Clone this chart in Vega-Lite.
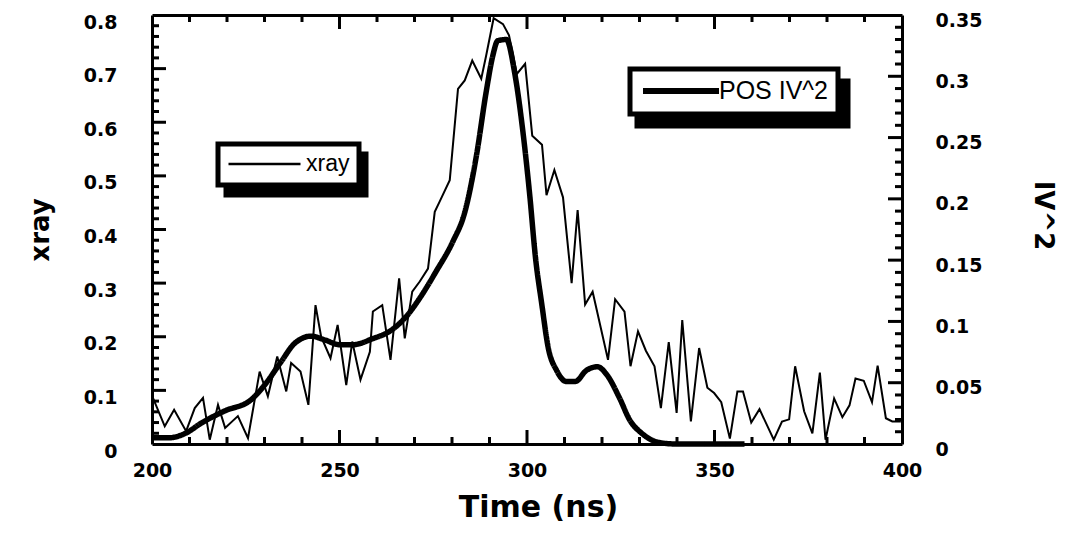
{
  "$schema": "https://vega.github.io/schema/vega-lite/v6.json",
  "width": 750,
  "height": 429,
  "autosize": "none",
  "padding": {"left": 152, "top": 15, "right": 164, "bottom": 89},
  "background": "white",
  "datasets": {
    "xr": [
      {"t": 200.0, "v": 0.09}, {"t": 203.4, "v": 0.033}, {"t": 205.9, "v": 0.064}, {"t": 209.1, "v": 0.024},
      {"t": 211.4, "v": 0.067}, {"t": 213.6, "v": 0.086}, {"t": 215.4, "v": 0.008}, {"t": 217.6, "v": 0.073},
      {"t": 219.5, "v": 0.030}, {"t": 222.9, "v": 0.052}, {"t": 225.6, "v": 0.011}, {"t": 228.7, "v": 0.135},
      {"t": 230.9, "v": 0.089}, {"t": 233.4, "v": 0.163}, {"t": 235.8, "v": 0.098}, {"t": 237.1, "v": 0.151},
      {"t": 239.6, "v": 0.135}, {"t": 241.7, "v": 0.073}, {"t": 243.6, "v": 0.259}, {"t": 245.1, "v": 0.200},
      {"t": 247.6, "v": 0.160}, {"t": 249.5, "v": 0.222}, {"t": 251.8, "v": 0.110}, {"t": 253.4, "v": 0.191},
      {"t": 255.6, "v": 0.120}, {"t": 258.1, "v": 0.172}, {"t": 258.9, "v": 0.247}, {"t": 261.4, "v": 0.259},
      {"t": 263.6, "v": 0.157}, {"t": 265.9, "v": 0.309}, {"t": 267.4, "v": 0.197}, {"t": 269.4, "v": 0.284},
      {"t": 271.4, "v": 0.303}, {"t": 273.6, "v": 0.327}, {"t": 275.4, "v": 0.433}, {"t": 276.7, "v": 0.452},
      {"t": 279.4, "v": 0.492}, {"t": 281.6, "v": 0.662}, {"t": 283.4, "v": 0.678}, {"t": 285.4, "v": 0.715},
      {"t": 287.8, "v": 0.681}, {"t": 289.1, "v": 0.724}, {"t": 291.1, "v": 0.794}, {"t": 293.6, "v": 0.783},
      {"t": 295.2, "v": 0.762}, {"t": 297.3, "v": 0.690}, {"t": 299.5, "v": 0.709}, {"t": 301.4, "v": 0.575},
      {"t": 304.0, "v": 0.558}, {"t": 305.2, "v": 0.464}, {"t": 307.3, "v": 0.511}, {"t": 309.6, "v": 0.460},
      {"t": 311.9, "v": 0.300}, {"t": 313.5, "v": 0.436}, {"t": 315.5, "v": 0.260}, {"t": 317.5, "v": 0.284},
      {"t": 321.6, "v": 0.157}, {"t": 323.5, "v": 0.270}, {"t": 326.0, "v": 0.247}, {"t": 327.6, "v": 0.145},
      {"t": 329.6, "v": 0.210}, {"t": 331.7, "v": 0.174}, {"t": 334.0, "v": 0.145}, {"t": 335.7, "v": 0.067},
      {"t": 337.8, "v": 0.190}, {"t": 339.9, "v": 0.058}, {"t": 341.4, "v": 0.231}, {"t": 343.7, "v": 0.042},
      {"t": 345.9, "v": 0.179}, {"t": 348.1, "v": 0.105}, {"t": 349.9, "v": 0.095}, {"t": 351.8, "v": 0.078},
      {"t": 354.1, "v": 0.010}, {"t": 356.1, "v": 0.098}, {"t": 357.6, "v": 0.098}, {"t": 359.8, "v": 0.040},
      {"t": 362.0, "v": 0.065}, {"t": 365.8, "v": 0.008}, {"t": 368.0, "v": 0.042}, {"t": 369.9, "v": 0.046},
      {"t": 371.5, "v": 0.145}, {"t": 373.9, "v": 0.061}, {"t": 376.1, "v": 0.020}, {"t": 378.1, "v": 0.133},
      {"t": 379.6, "v": 0.008}, {"t": 381.9, "v": 0.085}, {"t": 384.1, "v": 0.050}, {"t": 386.0, "v": 0.072},
      {"t": 387.6, "v": 0.122}, {"t": 389.8, "v": 0.118}, {"t": 392.0, "v": 0.078}, {"t": 393.5, "v": 0.146},
      {"t": 395.7, "v": 0.048}, {"t": 397.4, "v": 0.042}, {"t": 399.7, "v": 0.042}
    ],
    "iv": [
      {"t": 200.0, "v": 0.005}, {"t": 204.3, "v": 0.005}, {"t": 209.1, "v": 0.009}, {"t": 213.1, "v": 0.017},
      {"t": 219.4, "v": 0.027}, {"t": 226.4, "v": 0.036}, {"t": 230.0, "v": 0.048}, {"t": 234.4, "v": 0.067},
      {"t": 238.0, "v": 0.082}, {"t": 242.4, "v": 0.088}, {"t": 246.0, "v": 0.085}, {"t": 250.1, "v": 0.081},
      {"t": 253.6, "v": 0.081}, {"t": 258.9, "v": 0.086}, {"t": 263.4, "v": 0.092}, {"t": 267.8, "v": 0.104},
      {"t": 271.4, "v": 0.119}, {"t": 275.8, "v": 0.141}, {"t": 280.2, "v": 0.165}, {"t": 283.4, "v": 0.189},
      {"t": 286.5, "v": 0.235}, {"t": 289.1, "v": 0.287}, {"t": 290.9, "v": 0.317}, {"t": 292.2, "v": 0.329},
      {"t": 294.5, "v": 0.330}, {"t": 296.7, "v": 0.303}, {"t": 298.9, "v": 0.255}, {"t": 300.7, "v": 0.204},
      {"t": 302.3, "v": 0.151}, {"t": 303.9, "v": 0.115}, {"t": 305.7, "v": 0.078}, {"t": 307.9, "v": 0.060},
      {"t": 310.5, "v": 0.051}, {"t": 312.9, "v": 0.051}, {"t": 315.8, "v": 0.060}, {"t": 318.8, "v": 0.063},
      {"t": 321.4, "v": 0.056}, {"t": 324.6, "v": 0.038}, {"t": 327.5, "v": 0.019}, {"t": 330.5, "v": 0.009},
      {"t": 333.4, "v": 0.003}, {"t": 335.6, "v": 0.001}, {"t": 340.0, "v": 0.0}, {"t": 358.0, "v": 0.0}
    ],
    "xt": [
      {"t": 210}, {"t": 220}, {"t": 230}, {"t": 240}, {"t": 250}, {"t": 260}, {"t": 270}, {"t": 280}, {"t": 290},
      {"t": 300}, {"t": 310}, {"t": 320}, {"t": 330}, {"t": 340}, {"t": 350}, {"t": 360}, {"t": 370}, {"t": 380}, {"t": 390}
    ],
    "lt": [
      {"v": 0.02}, {"v": 0.04}, {"v": 0.06}, {"v": 0.08}, {"v": 0.1}, {"v": 0.12}, {"v": 0.14}, {"v": 0.16}, {"v": 0.18},
      {"v": 0.2}, {"v": 0.22}, {"v": 0.24}, {"v": 0.26}, {"v": 0.28}, {"v": 0.3}, {"v": 0.32}, {"v": 0.34}, {"v": 0.36},
      {"v": 0.38}, {"v": 0.4}, {"v": 0.42}, {"v": 0.44}, {"v": 0.46}, {"v": 0.48}, {"v": 0.5}, {"v": 0.52}, {"v": 0.54},
      {"v": 0.56}, {"v": 0.58}, {"v": 0.6}, {"v": 0.62}, {"v": 0.64}, {"v": 0.66}, {"v": 0.68}, {"v": 0.7}, {"v": 0.72},
      {"v": 0.74}, {"v": 0.76}, {"v": 0.78}
    ],
    "rt": [
      {"v": 0.01}, {"v": 0.02}, {"v": 0.03}, {"v": 0.04}, {"v": 0.05}, {"v": 0.06}, {"v": 0.07}, {"v": 0.08}, {"v": 0.09},
      {"v": 0.1}, {"v": 0.11}, {"v": 0.12}, {"v": 0.13}, {"v": 0.14}, {"v": 0.15}, {"v": 0.16}, {"v": 0.17}, {"v": 0.18},
      {"v": 0.19}, {"v": 0.2}, {"v": 0.21}, {"v": 0.22}, {"v": 0.23}, {"v": 0.24}, {"v": 0.25}, {"v": 0.26}, {"v": 0.27},
      {"v": 0.28}, {"v": 0.29}, {"v": 0.3}, {"v": 0.31}, {"v": 0.32}, {"v": 0.33}, {"v": 0.34}
    ]
  },
  "config": {
    "view": {"stroke": null},
    "axis": {
      "domainColor": "black",
      "domainWidth": 3,
      "ticks": false,
      "grid": false,
      "labelColor": "black",
      "labelFont": "DejaVu Sans",
      "labelFontWeight": "bold",
      "labelFontSize": 19,
      "labelFlush": false,
      "labelOverlap": false,
      "titleColor": "black",
      "titleFont": "DejaVu Sans",
      "titleFontWeight": "bold"
    },
    "legend": {"strokeWidth": 5, "title": null}
  },
  "resolve": {"scale": {"y": "independent"}, "axis": {"x": "independent"}},
  "layer": [
    {
      "data": {"name": "xr"},
      "mark": {"type": "line", "strokeWidth": 2, "color": "black"},
      "encoding": {
        "x": {
          "field": "t", "type": "quantitative",
          "scale": {"domain": [200, 400], "nice": false, "zero": false},
          "axis": {
            "orient": "bottom",
            "values": [200, 250, 300, 350, 400],
            "labelPadding": 17,
            "title": "Time (ns)",
            "titleFontSize": 30,
            "titlePadding": 12,
            "titleX": 386
          }
        },
        "y": {
          "field": "v", "type": "quantitative",
          "scale": {"domain": [0, 0.8], "nice": false},
          "axis": {
            "orient": "left",
            "values": [0, 0.1, 0.2, 0.3, 0.4, 0.5, 0.6, 0.7, 0.8],
            "format": ".2~f",
            "labelPadding": 35,
            "labelOffset": 7,
            "title": "xray",
            "titleFontSize": 26,
            "titlePadding": 30
          }
        },
        "stroke": {
          "datum": "xray",
          "scale": {"domain": ["xray"], "range": ["black"]},
          "legend": {
            "orient": "none", "legendX": 66, "legendY": 129, "zindex": 2,
            "fillColor": "white", "strokeColor": "black", "padding": 9,
            "symbolType": "stroke", "symbolSize": 5184, "symbolStrokeWidth": 2.5, "symbolStrokeColor": "black",
            "labelFont": "Liberation Sans", "labelFontSize": 23, "labelColor": "black", "labelOffset": 4, "clipHeight": 22
          }
        },
        "opacity": {
          "datum": "xs", "type": "nominal",
          "scale": {"range": [1, 1]},
          "legend": {
            "orient": "none", "legendX": 74, "legendY": 139, "zindex": 1,
            "fillColor": "black", "strokeColor": "black", "padding": 9,
            "symbolType": "stroke", "symbolSize": 14161, "symbolStrokeWidth": 2.5, "symbolStrokeColor": "black",
            "labelExpr": "''",
            "labelFont": "Liberation Sans", "labelFontSize": 23, "labelColor": "black", "labelOffset": 0, "clipHeight": 22
          }
        }
      }
    },
    {
      "data": {"name": "iv"},
      "mark": {"type": "line", "color": "black", "interpolate": "monotone"},
      "encoding": {
        "x": {
          "field": "t", "type": "quantitative",
          "axis": {
            "orient": "top",
            "values": [250, 300, 350],
            "labels": false,
            "title": null
          }
        },
        "y": {
          "field": "v", "type": "quantitative",
          "scale": {"domain": [0, 0.35], "nice": false},
          "axis": {
            "orient": "right",
            "values": [0, 0.05, 0.1, 0.15, 0.2, 0.25, 0.3, 0.35],
            "format": ".2~f",
            "labelPadding": 33,
            "labelOffset": 5,
            "title": "IV^2",
            "titleFontSize": 26,
            "titlePadding": 48,
            "titleY": 200
          }
        },
        "strokeDash": {
          "datum": "POS IV^2",
          "scale": {"domain": ["POS IV^2"], "range": [[1, 0]]},
          "legend": {
            "orient": "none", "legendX": 478, "legendY": 54, "zindex": 2,
            "fillColor": "white", "strokeColor": "black", "padding": 10,
            "symbolType": "stroke", "symbolSize": 5776, "symbolStrokeWidth": 6, "symbolStrokeColor": "black",
            "labelFont": "Liberation Sans", "labelFontSize": 25, "labelColor": "black", "labelOffset": -3, "clipHeight": 24
          }
        },
        "strokeWidth": {
          "datum": "ivs", "type": "nominal",
          "scale": {"range": [5.5, 5.5]},
          "legend": {
            "orient": "none", "legendX": 485, "legendY": 66, "zindex": 1,
            "fillColor": "black", "strokeColor": "black", "padding": 10,
            "symbolType": "stroke", "symbolSize": 34225, "symbolStrokeWidth": 6, "symbolStrokeColor": "black",
            "labelExpr": "''",
            "labelFont": "Liberation Sans", "labelFontSize": 25, "labelColor": "black", "labelOffset": 0, "clipHeight": 24
          }
        }
      }
    },
    {
      "data": {"name": "xt"},
      "transform": [{"filter": "datum.t % 50 === 0"}],
      "mark": {"type": "tick", "orient": "vertical", "size": 14, "thickness": 3, "color": "black", "opacity": 1, "yOffset": -7},
      "encoding": {
        "x": {"field": "t", "type": "quantitative", "axis": null},
        "y": {"datum": 0, "type": "quantitative", "scale": {"domain": [0, 1], "nice": false}, "axis": null}
      }
    },
    {
      "data": {"name": "xt"},
      "transform": [{"filter": "datum.t % 50 !== 0"}],
      "mark": {"type": "tick", "orient": "vertical", "size": 7, "thickness": 3, "color": "black", "opacity": 1, "yOffset": -3.5},
      "encoding": {
        "x": {"field": "t", "type": "quantitative", "axis": null},
        "y": {"datum": 0, "type": "quantitative", "scale": {"domain": [0, 1], "nice": false}, "axis": null}
      }
    },
    {
      "data": {"name": "xt"},
      "transform": [{"filter": "datum.t % 50 === 0"}],
      "mark": {"type": "tick", "orient": "vertical", "size": 14, "thickness": 3, "color": "black", "opacity": 1, "yOffset": 7},
      "encoding": {
        "x": {"field": "t", "type": "quantitative", "axis": null},
        "y": {"datum": 1, "type": "quantitative", "scale": {"domain": [0, 1], "nice": false}, "axis": null}
      }
    },
    {
      "data": {"name": "xt"},
      "transform": [{"filter": "datum.t % 50 !== 0"}],
      "mark": {"type": "tick", "orient": "vertical", "size": 7, "thickness": 3, "color": "black", "opacity": 1, "yOffset": 3.5},
      "encoding": {
        "x": {"field": "t", "type": "quantitative", "axis": null},
        "y": {"datum": 1, "type": "quantitative", "scale": {"domain": [0, 1], "nice": false}, "axis": null}
      }
    },
    {
      "data": {"name": "lt"},
      "transform": [{"filter": "abs(datum.v * 10 - round(datum.v * 10)) < 0.000001"}],
      "mark": {"type": "tick", "orient": "horizontal", "size": 14, "thickness": 3, "color": "black", "opacity": 1, "xOffset": 7},
      "encoding": {
        "x": {"datum": 200, "type": "quantitative", "axis": null},
        "y": {"field": "v", "type": "quantitative", "scale": {"domain": [0, 0.8], "nice": false}, "axis": null}
      }
    },
    {
      "data": {"name": "lt"},
      "transform": [{"filter": "abs(datum.v * 10 - round(datum.v * 10)) >= 0.000001"}],
      "mark": {"type": "tick", "orient": "horizontal", "size": 7, "thickness": 3, "color": "black", "opacity": 1, "xOffset": 3.5},
      "encoding": {
        "x": {"datum": 200, "type": "quantitative", "axis": null},
        "y": {"field": "v", "type": "quantitative", "scale": {"domain": [0, 0.8], "nice": false}, "axis": null}
      }
    },
    {
      "data": {"name": "rt"},
      "transform": [{"filter": "abs(datum.v * 20 - round(datum.v * 20)) < 0.000001"}],
      "mark": {"type": "tick", "orient": "horizontal", "size": 14, "thickness": 3, "color": "black", "opacity": 1, "xOffset": -7},
      "encoding": {
        "x": {"datum": 400, "type": "quantitative", "axis": null},
        "y": {"field": "v", "type": "quantitative", "scale": {"domain": [0, 0.35], "nice": false}, "axis": null}
      }
    },
    {
      "data": {"name": "rt"},
      "transform": [{"filter": "abs(datum.v * 20 - round(datum.v * 20)) >= 0.000001"}],
      "mark": {"type": "tick", "orient": "horizontal", "size": 7, "thickness": 3, "color": "black", "opacity": 1, "xOffset": -3.5},
      "encoding": {
        "x": {"datum": 400, "type": "quantitative", "axis": null},
        "y": {"field": "v", "type": "quantitative", "scale": {"domain": [0, 0.35], "nice": false}, "axis": null}
      }
    }
  ]
}
